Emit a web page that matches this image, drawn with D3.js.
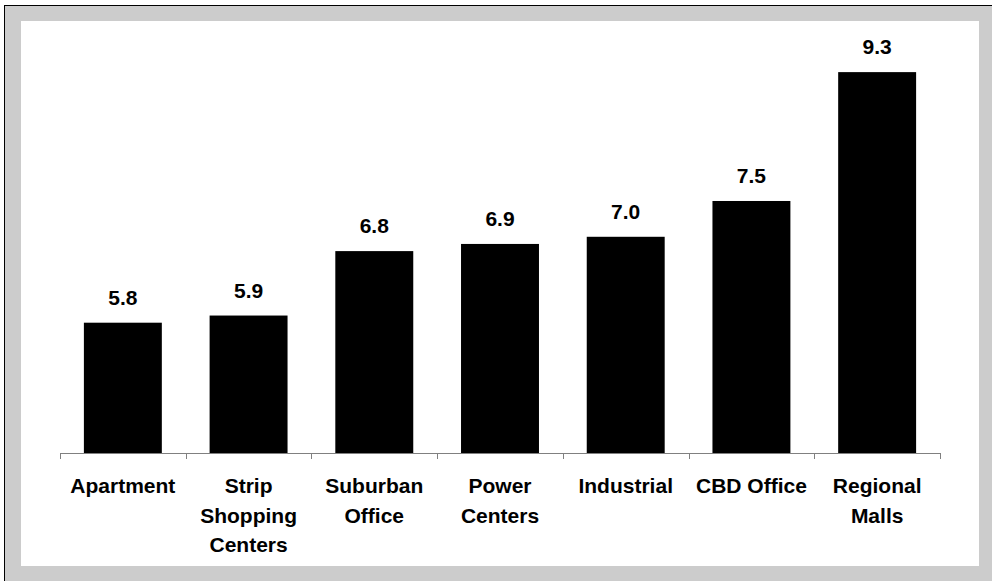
<!DOCTYPE html>
<html>
<head>
<meta charset="utf-8">
<script src="https://cdn.jsdelivr.net/npm/d3@7/dist/d3.min.js"></script>
<style>
  html, body { margin: 0; padding: 0; background: #ffffff; }
  svg { display: block; }
  text { font-family: Arial, "Liberation Sans", sans-serif; font-weight: bold; fill: #000; }
</style>
</head>
<body>
<svg id="chart" width="992" height="581"></svg>
<script>
// Property types and their values
const categories = [
  ["Apartment"],
  ["Strip", "Shopping", "Centers"],
  ["Suburban", "Office"],
  ["Power", "Centers"],
  ["Industrial"],
  ["CBD Office"],
  ["Regional", "Malls"]
];
const values = [5.8, 5.9, 6.8, 6.9, 7.0, 7.5, 9.3];
const yDomain = [3.98, 10];

const svg = d3.select("#chart");
const W = 992, H = 581;
const FONT = "21px";

// outer frame and white panel
svg.append("rect")
  .attr("x", 4.5).attr("y", 5.5)
  .attr("width", W + 10).attr("height", H + 10)
  .attr("fill", "#cccccc").attr("stroke", "#000").attr("stroke-width", 1);
svg.append("rect")
  .attr("x", 21).attr("y", 21)
  .attr("width", 958).attr("height", 545)
  .attr("fill", "#ffffff");

const plot = { left: 60, right: 940, top: 22, bottom: 453 };

const x = d3.scaleBand()
  .domain(d3.range(categories.length))
  .range([plot.left, plot.right])
  .paddingInner(0.38)
  .paddingOuter(0.19);

const y = d3.scaleLinear()
  .domain(yDomain)
  .range([plot.bottom, plot.top]);

// bars
svg.append("g")
  .selectAll("rect")
  .data(values)
  .join("rect")
  .attr("x", (d, i) => x(i))
  .attr("y", d => y(d))
  .attr("width", x.bandwidth())
  .attr("height", d => y(yDomain[0]) - y(d))
  .attr("fill", "#000");

// value labels
svg.append("g")
  .selectAll("text")
  .data(values)
  .join("text")
  .attr("x", (d, i) => x(i) + x.bandwidth() / 2)
  .attr("y", d => y(d) - 18)
  .attr("text-anchor", "middle")
  .attr("font-size", FONT)
  .text(d => d.toFixed(1));

// category axis with boundary ticks
const step = (plot.right - plot.left) / categories.length;
const axisG = svg.append("g");
axisG.append("line")
  .attr("x1", plot.left).attr("x2", plot.right)
  .attr("y1", plot.bottom + 0.5).attr("y2", plot.bottom + 0.5)
  .attr("stroke", "#808080").attr("stroke-width", 1);
axisG.selectAll("line.tick")
  .data(d3.range(categories.length + 1))
  .join("line")
  .attr("class", "tick")
  .attr("x1", i => Math.round(plot.left + i * step) + 0.5)
  .attr("x2", i => Math.round(plot.left + i * step) + 0.5)
  .attr("y1", plot.bottom)
  .attr("y2", plot.bottom + 6)
  .attr("stroke", "#808080").attr("stroke-width", 1);

// category labels
const labels = svg.append("g")
  .selectAll("text")
  .data(categories)
  .join("text")
  .attr("x", (d, i) => x(i) + x.bandwidth() / 2)
  .attr("y", plot.bottom + 40)
  .attr("text-anchor", "middle")
  .attr("font-size", FONT);
labels.selectAll("tspan")
  .data((d, i) => d.map(line => ({ line, i })))
  .join("tspan")
  .attr("x", d => x(d.i) + x.bandwidth() / 2)
  .attr("dy", (d, j) => j === 0 ? 0 : 29.5)
  .text(d => d.line);
</script>
</body>
</html>
